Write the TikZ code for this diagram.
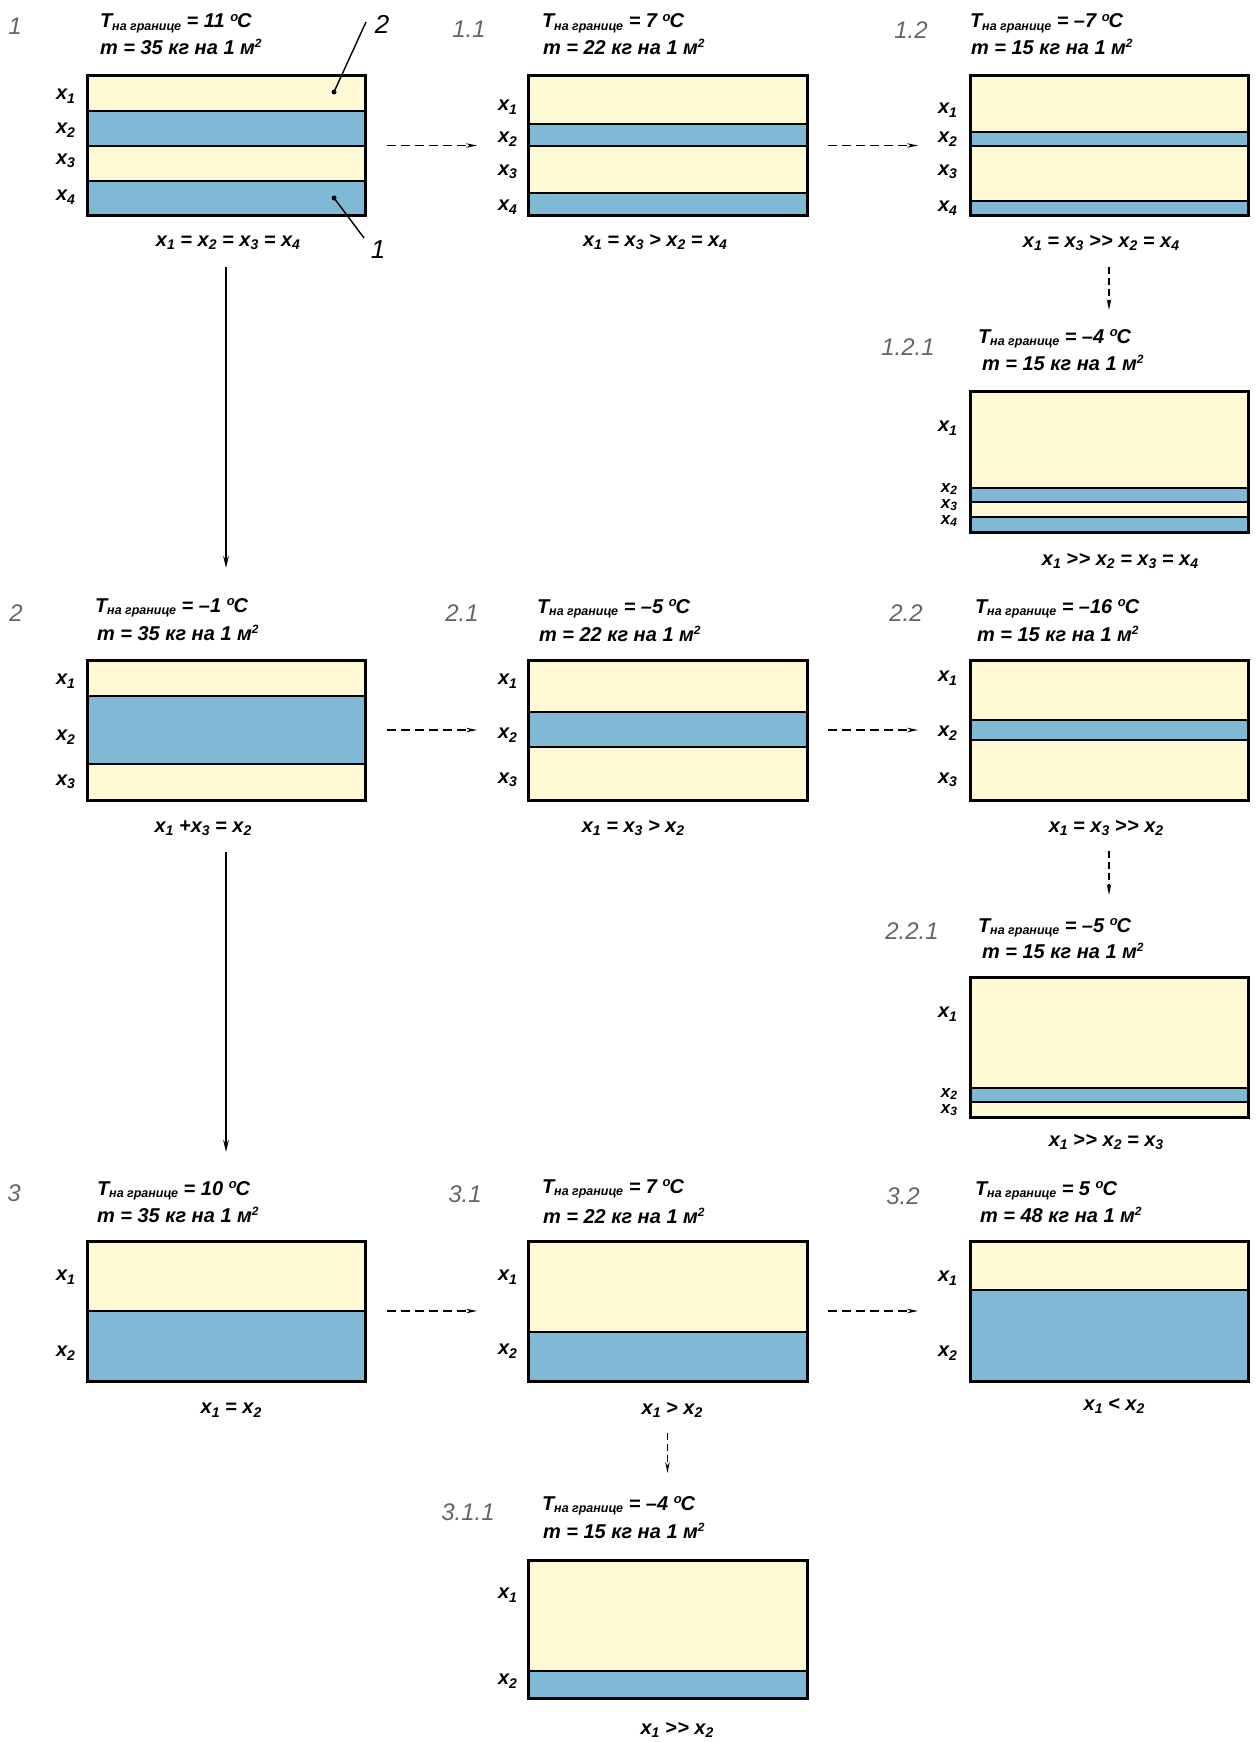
\documentclass[tikz,border=0pt]{standalone}
\usepackage{fontspec}
\setmainfont{Liberation Sans}
\usetikzlibrary{arrows.meta}
\definecolor{cY}{HTML}{FFF9D5}
\definecolor{cB}{HTML}{80B9D5}
\newcommand\xv[1]{x\raisebox{-3.5pt}{\fontsize{14}{14}\selectfont #1}}
\newcommand\xs[1]{x\raisebox{-2pt}{\fontsize{12}{12}\selectfont #1}}
\newcommand\Tl[1]{T\raisebox{-2.5pt}{\fontsize{12.5}{12.5}\selectfont на границе} = #1 \raisebox{6.5pt}{\fontsize{13}{13}\selectfont o}\kern-1pt C}
\newcommand\ml[1]{m = #1 кг на 1 м\raisebox{7pt}{\fontsize{12}{12}\selectfont 2}}
\newcommand\ggt{>\kern0.5pt>}
\newcommand\layers[4]{%
  \foreach \ya/\yb/\cc in {#3} {\fill[\cc] (#1,\ya) rectangle (#2,\yb);}
  \foreach \yy in {#4} {\draw[sep] (#1,\yy) -- (#2,\yy);}
}
\begin{document}
\begin{tikzpicture}[x=1pt,y=-1pt,
  every node/.style={inner sep=0pt,outer sep=0pt},
  sep/.style={line width=2.5pt},
  frame/.style={draw,line width=3pt,anchor=north west},
  txt/.style={font=\fontsize{20}{22}\selectfont\bfseries\itshape,anchor=base west},
  xlab/.style={font=\fontsize{20}{22}\selectfont\bfseries\itshape,anchor=east},
  xsmall/.style={font=\fontsize{17}{17}\selectfont\bfseries\itshape,anchor=east},
  rel/.style={font=\fontsize{20}{22}\selectfont\bfseries\itshape,anchor=center},
  num/.style={font=\fontsize{24}{24}\selectfont\itshape,text=black!60,anchor=center},
  lead/.style={font=\fontsize{26}{26}\selectfont\itshape,anchor=center},
  harr/.style={line width=1.3pt,dash pattern=on 9pt off 5pt,-{Stealth[length=11pt,width=4.5pt]}},
  varr/.style={line width=1.3pt,dash pattern=on 7pt off 4pt,-{Stealth[length=11pt,width=4.5pt]}},
  sarr/.style={line width=2.2pt,-{Stealth[length=12pt,width=5.5pt]}},
  leadline/.style={line width=1.4pt}]
\fill[white] (0,0) rectangle (1259,1742);
\useasboundingbox (0,0) rectangle (1259,1742);

% ---------- Row 1 ----------
\layers{87}{365}{76/111/cY,111/146/cB,146/181/cY,181/215/cB}{111,146,181}
\node[frame,minimum width=278pt,minimum height=139pt] (b1) at (87,76) {};
\node[num] (n1) at (15,26) {1};
\node[txt] (t1) at (100,28) {\Tl{11}};
\node[txt] (m1) at (100,55) {\ml{35}};
\node[xlab] (x11) at (75,96) {\xv1};
\node[xlab] (x12) at (75,130) {\xv2};
\node[xlab] (x13) at (75,161) {\xv3};
\node[xlab] (x14) at (75,197) {\xv4};
\node[rel] (r1) at (228,243) {\xv1 = \xv2 = \xv3 = \xv4};

\layers{528}{807}{76/124/cY,124/146/cB,146/193/cY,193/215/cB}{124,146,193}
\node[frame,minimum width=279pt,minimum height=139pt] (b11) at (528,76) {};
\node[num] (n11) at (469,29) {1.1};
\node[txt] (t11) at (542,28) {\Tl{7}};
\node[txt] (m11) at (543,55) {\ml{22}};
\node[xlab] (x111) at (517,107) {\xv1};
\node[xlab] (x112) at (517,139) {\xv2};
\node[xlab] (x113) at (517,172) {\xv3};
\node[xlab] (x114) at (517,207) {\xv4};
\node[rel] (r11) at (655,242) {\xv1 = \xv3 > \xv2 = \xv4};

\layers{970}{1248}{76/132/cY,132/146/cB,146/201/cY,201/215/cB}{132,146,201}
\node[frame,minimum width=278pt,minimum height=139pt] (b12) at (970,76) {};
\node[num] (n12) at (911,30) {1.2};
\node[txt] (t12) at (970,28) {\Tl{–7}};
\node[txt] (m12) at (971,55) {\ml{15}};
\node[xlab] (x121) at (957,110) {\xv1};
\node[xlab] (x122) at (957,139) {\xv2};
\node[xlab] (x123) at (957,172) {\xv3};
\node[xlab] (x124) at (957,208) {\xv4};
\node[rel] (r12) at (1101,243) {\xv1 = \xv3 \ggt{} \xv2 = \xv4};

\layers{970}{1248}{391/488/cY,488/502/cB,502/517/cY,517/532/cB}{488,502,517}
\node[frame,minimum width=278pt,minimum height=141pt] (b121) at (970,391) {};
\node[num] (n121) at (908,347) {1.2.1};
\node[txt] (t121) at (978,343) {\Tl{–4}};
\node[txt] (m121) at (982,370) {\ml{15}};
\node[xlab] (x1211) at (957,428) {\xv1};
\node[xsmall] (x1212) at (957,489) {\xs2};
\node[xsmall] (x1213) at (957,505) {\xs3};
\node[xsmall] (x1214) at (957,521) {\xs4};
\node[rel] (r121) at (1120,561) {\xv1 \ggt{} \xv2 = \xv3 = \xv4};

% ---------- Row 2 ----------
\layers{87}{365}{660/696/cY,696/764/cB,764/800/cY}{696,764}
\node[frame,minimum width=278pt,minimum height=140pt] (b2) at (87,660) {};
\node[num] (n2) at (16,613) {2};
\node[txt] (t2) at (95,612) {\Tl{–1}};
\node[txt] (m2) at (97,640) {\ml{35}};
\node[xlab] (x21) at (75,681) {\xv1};
\node[xlab] (x22) at (75,737) {\xv2};
\node[xlab] (x23) at (75,782) {\xv3};
\node[rel] (r2) at (203,828) {\xv1 +\xv3 = \xv2};

\layers{528}{807}{660/712/cY,712/747/cB,747/800/cY}{712,747}
\node[frame,minimum width=279pt,minimum height=140pt] (b21) at (528,660) {};
\node[num] (n21) at (462,613) {2.1};
\node[txt] (t21) at (537,613) {\Tl{–5}};
\node[txt] (m21) at (539,641) {\ml{22}};
\node[xlab] (x211) at (517,681) {\xv1};
\node[xlab] (x212) at (517,735) {\xv2};
\node[xlab] (x213) at (517,780) {\xv3};
\node[rel] (r21) at (633,828) {\xv1 = \xv3 > \xv2};

\layers{970}{1248}{660/720/cY,720/740/cB,740/800/cY}{720,740}
\node[frame,minimum width=278pt,minimum height=140pt] (b22) at (970,660) {};
\node[num] (n22) at (906,613) {2.2};
\node[txt] (t22) at (975,613) {\Tl{–16}};
\node[txt] (m22) at (977,641) {\ml{15}};
\node[xlab] (x221) at (957,678) {\xv1};
\node[xlab] (x222) at (957,733) {\xv2};
\node[xlab] (x223) at (957,780) {\xv3};
\node[rel] (r22) at (1106,828) {\xv1 = \xv3 \ggt{} \xv2};

\layers{970}{1248}{977/1088/cY,1088/1102/cB,1102/1117/cY}{1088,1102}
\node[frame,minimum width=278pt,minimum height=140pt] (b221) at (970,977) {};
\node[num] (n221) at (912,931) {2.2.1};
\node[txt] (t221) at (978,932) {\Tl{–5}};
\node[txt] (m221) at (982,958) {\ml{15}};
\node[xlab] (x2211) at (957,1014) {\xv1};
\node[xsmall] (x2212) at (957,1094) {\xs2};
\node[xsmall] (x2213) at (957,1110) {\xs3};
\node[rel] (r221) at (1106,1142) {\xv1 \ggt{} \xv2 = \xv3};

% ---------- Row 3 ----------
\layers{87}{365}{1241/1311/cY,1311/1381/cB}{1311}
\node[frame,minimum width=278pt,minimum height=140pt] (b3) at (87,1241) {};
\node[num] (n3) at (14,1193) {3};
\node[txt] (t3) at (97,1195) {\Tl{10}};
\node[txt] (m3) at (97,1222) {\ml{35}};
\node[xlab] (x31) at (75,1277) {\xv1};
\node[xlab] (x32) at (75,1353) {\xv2};
\node[rel] (r3) at (231,1410) {\xv1 = \xv2};

\layers{528}{807}{1241/1332/cY,1332/1381/cB}{1332}
\node[frame,minimum width=279pt,minimum height=140pt] (b31) at (528,1241) {};
\node[num] (n31) at (465,1194) {3.1};
\node[txt] (t31) at (542,1193) {\Tl{7}};
\node[txt] (m31) at (543,1223) {\ml{22}};
\node[xlab] (x311) at (517,1277) {\xv1};
\node[xlab] (x312) at (517,1351) {\xv2};
\node[rel] (r31) at (672,1410) {\xv1 > \xv2};

\layers{970}{1248}{1241/1290/cY,1290/1381/cB}{1290}
\node[frame,minimum width=278pt,minimum height=140pt] (b32) at (970,1241) {};
\node[num] (n32) at (903,1196) {3.2};
\node[txt] (t32) at (975,1195) {\Tl{5}};
\node[txt] (m32) at (980,1222) {\ml{48}};
\node[xlab] (x321) at (957,1278) {\xv1};
\node[xlab] (x322) at (957,1353) {\xv2};
\node[rel] (r32) at (1114,1406) {\xv1 < \xv2};

\layers{528}{807}{1560/1671/cY,1671/1698/cB}{1671}
\node[frame,minimum width=279pt,minimum height=138pt] (b311) at (528,1560) {};
\node[num] (n311) at (468,1512) {3.1.1};
\node[txt] (t311) at (542,1510) {\Tl{–4}};
\node[txt] (m311) at (543,1538) {\ml{15}};
\node[xlab] (x3111) at (517,1595) {\xv1};
\node[xlab] (x3112) at (517,1681) {\xv2};
\node[rel] (r311) at (677,1730) {\xv1 \ggt{} \xv2};

% ---------- leaders ----------
\fill (334,92) circle (2.5pt) coordinate (d2);
\fill (334,198) circle (2.5pt) coordinate (d1);
\coordinate (e2) at (366,22);
\coordinate (e1) at (364,238);
\node[lead] (L2) at (382,24) {2};
\node[lead] (L1) at (378,250) {1};
\draw[leadline] (d2) -- (e2);
\draw[leadline] (d1) -- (e1);

% ---------- arrows ----------
\draw[harr] ([xshift=22pt]b1.east) -- ([xshift=-51pt]b11.west);
\draw[harr] ([xshift=21pt]b11.east) -- ([xshift=-52pt]b12.west);
\draw[harr] ([xshift=22pt]b2.east) -- ([xshift=-51pt]b21.west);
\draw[harr] ([xshift=21pt]b21.east) -- ([xshift=-52pt]b22.west);
\draw[harr] ([xshift=22pt]b3.east) -- ([xshift=-51pt]b31.west);
\draw[harr] ([xshift=21pt]b31.east) -- ([xshift=-52pt]b32.west);
\draw[sarr] ([yshift=-52pt]b1.south) -- ([yshift=92pt]b2.north);
\draw[sarr] ([yshift=-52pt]b2.south) -- ([yshift=89pt]b3.north);
\draw[varr] ([yshift=-52pt]b12.south) -- ([yshift=81pt]b121.north);
\draw[varr] ([yshift=-51pt]b22.south) -- ([yshift=82pt]b221.north);
\draw[varr] ([yshift=-52pt]b31.south) -- ([yshift=87pt]b311.north);
\end{tikzpicture}
\end{document}
